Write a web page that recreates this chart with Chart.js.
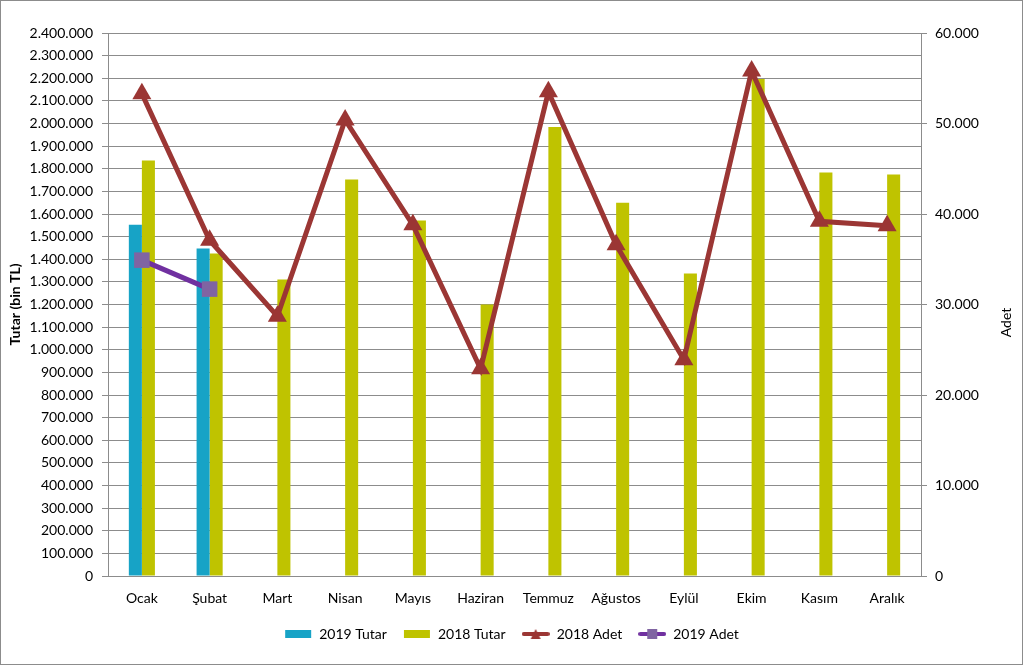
<!DOCTYPE html>
<html lang="tr">
<head>
<meta charset="utf-8">
<title>Tutar ve Adet</title>
<script src="https://cdn.jsdelivr.net/npm/chart.js@4.4.1/dist/chart.umd.min.js"></script>
<style>
    html, body { margin: 0; padding: 0; background: #fff; }
    #wrap { width: 1021px; height: 663px; border: 1px solid #8c8c8c; position: relative; }
    canvas { display: block; }
</style>
</head>
<body>
<div id="wrap"><canvas id="chart" width="1021" height="663"></canvas></div>
<script>
// months
const months = ['Ocak', 'Şubat', 'Mart', 'Nisan', 'Mayıs', 'Haziran', 'Temmuz', 'Ağustos', 'Eylül', 'Ekim', 'Kasım', 'Aralık'];

// Tutar (bin TL) - left axis
const tutar2019 = [1553000, 1447000, null, null, null, null, null, null, null, null, null, null];
const tutar2018 = [1837000, 1425000, 1310000, 1752000, 1571000, 1200000, 1985000, 1650000, 1337000, 2197000, 1783000, 1775000];

// Adet - right axis
const adet2018 = [53300, 37100, 28700, 50400, 38800, 22900, 53500, 36600, 23900, 55800, 39200, 38700];
const adet2019 = [34900, 31700, null, null, null, null, null, null, null, null, null, null];

// axis ranges
const tutarAxis = [0, 2400000, 100000];
const adetAxis = [0, 60000, 10000];

const FONT = 'Lato, "Open Sans", sans-serif';
const gridColor = '#8c8c8c';

function trNumber(v) {
    return Math.round(v).toString().replace(/\B(?=(\d{3})+(?!\d))/g, '.');
}

// small canvases for the legend symbols (Excel-like line + marker)
function legendIcon(kind, color, markerColor) {
    const c = document.createElement('canvas');
    c.width = 28; c.height = 12;
    const g = c.getContext('2d');
    if (kind === 'bar') {
        g.fillStyle = color;
        g.fillRect(1, 2, 26, 8);
    } else {
        g.strokeStyle = color;
        g.lineWidth = 4;
        g.lineCap = 'round';
        g.beginPath(); g.moveTo(2, 6); g.lineTo(26, 6); g.stroke();
        g.fillStyle = markerColor;
        if (kind === 'triangle') {
            g.beginPath(); g.moveTo(14, 1); g.lineTo(19, 11); g.lineTo(9, 11); g.closePath(); g.fill();
        } else {
            g.fillRect(9, 1, 10, 10);
        }
    }
    return c;
}

const icons = [
    legendIcon('bar', '#17a3c6'),
    legendIcon('bar', '#bfc300'),
    legendIcon('triangle', '#9b3634', '#9b3634'),
    legendIcon('square', '#7030a0', '#8064a2')
];

// right axis title reads bottom-to-top, like the left one
const rightTitle = {
    id: 'rightTitle',
    afterDraw: function(chart) {
        const area = chart.chartArea;
        const c = chart.ctx;
        c.save();
        c.translate(area.right + 85, (area.top + area.bottom) / 2 + 18);
        c.rotate(-Math.PI / 2);
        c.fillStyle = '#000';
        c.font = '14px ' + FONT;
        c.textAlign = 'center';
        c.textBaseline = 'middle';
        c.fillText('Adet', 0, 0);
        c.restore();
    }
};

const ctx = document.getElementById('chart').getContext('2d');

new Chart(ctx, {
    data: {
        labels: months,
        datasets: [
            {
                type: 'bar',
                label: '2019 Tutar',
                data: tutar2019,
                backgroundColor: '#17a3c6',
                yAxisID: 'y',
                order: 3
            },
            {
                type: 'bar',
                label: '2018 Tutar',
                data: tutar2018,
                backgroundColor: '#bfc300',
                yAxisID: 'y',
                order: 3
            },
            {
                type: 'line',
                label: '2018 Adet',
                data: adet2018,
                borderColor: '#9b3634',
                backgroundColor: '#9b3634',
                borderWidth: 5,
                pointStyle: 'triangle',
                pointRadius: 11,
                pointBorderWidth: 0,
                yAxisID: 'y1',
                order: 1
            },
            {
                type: 'line',
                label: '2019 Adet',
                data: adet2019,
                borderColor: '#7030a0',
                backgroundColor: '#8064a2',
                borderWidth: 5,
                pointStyle: 'rect',
                pointRadius: 11,
                pointBorderWidth: 0,
                yAxisID: 'y1',
                order: 0
            }
        ]
    },
    options: {
        responsive: false,
        animation: false,
        layout: { padding: { top: 32, left: 6, right: 6, bottom: 13 } },
        datasets: {
            bar: { categoryPercentage: 0.385, barPercentage: 1.0 }
        },
        scales: {
            x: {
                grid: { display: false, drawTicks: false },
                border: { color: gridColor, width: 1 },
                ticks: { color: '#000', font: { family: FONT, size: 14 }, padding: 14, maxRotation: 0 },
                afterFit: function(scale) { scale.height = 35; }
            },
            y: {
                position: 'left',
                min: tutarAxis[0],
                max: tutarAxis[1],
                ticks: {
                    stepSize: tutarAxis[2],
                    color: '#000',
                    font: { family: FONT, size: 14 },
                    padding: 9,
                    callback: function(value) { return trNumber(value); }
                },
                grid: { color: gridColor, lineWidth: 1, tickLength: 6 },
                border: { color: gridColor, width: 1 },
                title: {
                    display: true,
                    text: 'Tutar (bin TL)',
                    color: '#000',
                    font: { family: FONT, size: 14, weight: 'bold' },
                    padding: { top: 0, bottom: 4 }
                },
                afterFit: function(scale) { scale.width = 101; }
            },
            y1: {
                position: 'right',
                min: adetAxis[0],
                max: adetAxis[1],
                ticks: {
                    stepSize: adetAxis[2],
                    color: '#000',
                    font: { family: FONT, size: 14 },
                    padding: 8,
                    callback: function(value) { return trNumber(value); }
                },
                grid: { drawOnChartArea: false, color: gridColor, tickLength: 6 },
                border: { color: gridColor, width: 1 },
                afterFit: function(scale) { scale.width = 95; }
            }
        },
        plugins: {
            legend: {
                position: 'bottom',
                labels: {
                    usePointStyle: true,
                    pointStyleWidth: 28,
                    boxHeight: 12,
                    color: '#000',
                    font: { family: FONT, size: 14 },
                    padding: 16,
                    generateLabels: function(chart) {
                        return chart.data.datasets.map(function(ds, i) {
                            return {
                                text: ds.label,
                                pointStyle: icons[i],
                                fillStyle: ds.backgroundColor,
                                strokeStyle: ds.borderColor || ds.backgroundColor,
                                lineWidth: 0,
                                hidden: false,
                                datasetIndex: i,
                                fontColor: '#000'
                            };
                        });
                    }
                }
            },
            tooltip: { enabled: false }
        }
    },
    plugins: [rightTitle]
});
</script>
</body>
</html>
